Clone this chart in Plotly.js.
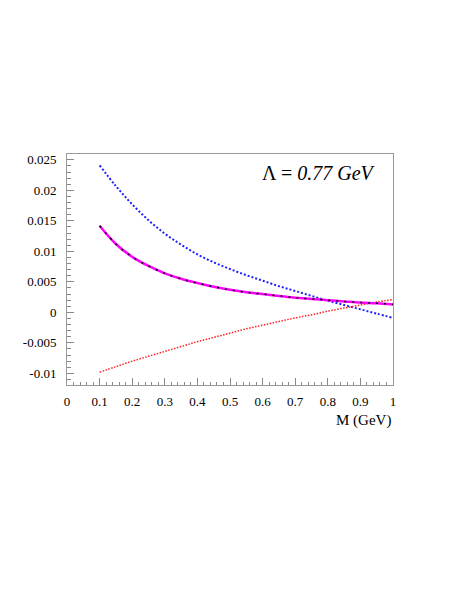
<!DOCTYPE html>
<html>
<head>
<meta charset="utf-8">
<script src="https://cdn.plot.ly/plotly-3.0.1.min.js"></script>
<style>
  body { margin: 0; background: #fff; }
  #graph { width: 463px; height: 599px; }
</style>
</head>
<body>
<div id="graph"></div>
<script>
// mass points (GeV)
var mass = [0.1, 0.15, 0.2, 0.25, 0.3, 0.35, 0.4, 0.45, 0.5, 0.55, 0.6, 0.65, 0.7, 0.75, 0.8, 0.85, 0.9, 0.95, 1.0];

// curves
var blueCurve = [0.0241, 0.0207, 0.0177, 0.0151, 0.0129, 0.0111, 0.0095, 0.0082, 0.0071, 0.0061, 0.0052, 0.0043, 0.0035, 0.0027, 0.0019, 0.0012, 0.0005, -0.0002, -0.0009];
var solidCurve = [0.0142, 0.0112, 0.0091, 0.0076, 0.0064, 0.0055, 0.0048, 0.0042, 0.0037, 0.0033, 0.0030, 0.0027, 0.0024, 0.0022, 0.0020, 0.0018, 0.0016, 0.0015, 0.0013];
var redCurve = [-0.0098, -0.0089, -0.0080, -0.0072, -0.0064, -0.0056, -0.0048, -0.0041, -0.0034, -0.0027, -0.0021, -0.0015, -0.0009, -0.0004, 0.0002, 0.0007, 0.0012, 0.0017, 0.0021];

// tick labels
var yTickVals = [-0.01, -0.005, 0, 0.005, 0.01, 0.015, 0.02, 0.025];
var yTickText = ['-0.01', '-0.005', '0', '0.005', '0.01', '0.015', '0.02', '0.025'];
var xTickVals = [0, 0.1, 0.2, 0.3, 0.4, 0.5, 0.6, 0.7, 0.8, 0.9, 1];
var xTickText = ['0', '0.1', '0.2', '0.3', '0.4', '0.5', '0.6', '0.7', '0.8', '0.9', '1'];

var serif = 'Liberation Serif, Times New Roman, serif';

var data = [
    {
        x: mass, y: blueCurve,
        type: 'scatter', mode: 'lines',
        line: { color: '#1f1fff', width: 2, dash: '2px,2px', shape: 'spline' },
        showlegend: false
    },
    {
        x: mass, y: redCurve,
        type: 'scatter', mode: 'lines',
        line: { color: '#ff2020', width: 1.5, dash: '1.5px,1.5px', shape: 'spline' },
        showlegend: false
    },
    {
        x: mass, y: solidCurve,
        type: 'scatter', mode: 'lines',
        line: { color: '#ff00ff', width: 2.5, shape: 'spline' },
        showlegend: false
    },
    {
        // black dotted line drawn on top of the magenta one
        x: mass, y: solidCurve,
        type: 'scatter', mode: 'lines',
        line: { color: '#000000', width: 1.5, dash: '2px,6px', shape: 'spline' },
        showlegend: false
    }
];

var layout = {
    width: 463,
    height: 599,
    margin: { l: 67, r: 70, t: 154, b: 214 },
    paper_bgcolor: '#ffffff',
    plot_bgcolor: '#ffffff',
    font: { family: serif, size: 13, color: '#000' },
    xaxis: {
        range: [0, 1],
        tickvals: xTickVals,
        ticktext: xTickText,
        ticks: 'inside',
        ticklen: 7,
        tickcolor: '#888',
        minor: { ticks: 'inside', dtick: 0.02, ticklen: 3.5, tickcolor: '#888' },
        showline: true,
        linecolor: '#999',
        linewidth: 1,
        mirror: true,
        showgrid: false,
        zeroline: false,
        ticklabelstandoff: 4,
        tickfont: { family: serif, size: 13 }
    },
    yaxis: {
        range: [-0.0119, 0.02595],
        tickvals: yTickVals,
        ticktext: yTickText,
        ticks: 'inside',
        ticklen: 7,
        tickcolor: '#888',
        minor: { ticks: 'inside', dtick: 0.001, ticklen: 3.5, tickcolor: '#888' },
        showline: true,
        linecolor: '#999',
        linewidth: 1,
        mirror: true,
        showgrid: false,
        zeroline: false,
        ticklabelstandoff: 7,
        tickfont: { family: serif, size: 13 }
    },
    annotations: [
        {
            text: 'Λ = <i>0.77 GeV</i>',
            xref: 'paper', yref: 'paper',
            x: 0.773, y: 0.918,
            xanchor: 'center', yanchor: 'middle',
            showarrow: false,
            font: { family: serif, size: 20, color: '#000' }
        },
        {
            text: 'M (GeV)',
            xref: 'paper', yref: 'paper',
            x: 1.0, y: -0.154,
            xanchor: 'right', yanchor: 'middle',
            showarrow: false,
            font: { family: serif, size: 15, color: '#000' }
        }
    ]
};

Plotly.newPlot('graph', data, layout, { displayModeBar: false, staticPlot: true });
</script>
</body>
</html>
